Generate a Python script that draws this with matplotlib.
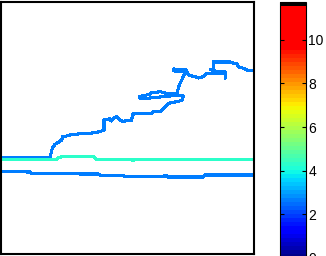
import matplotlib
matplotlib.use("Agg")
import matplotlib.pyplot as plt
import numpy as np
from matplotlib.colors import ListedColormap, Normalize
from matplotlib.cm import ScalarMappable

plt.rcParams['font.family'] = ['Liberation Sans', 'DejaVu Sans']

# winding contour (blue)
track_x = [0, 50, 50.7, 51.7, 53.3, 55, 58.3, 61.7, 62.7, 66.7, 70, 73.3, 90, 100,
           104, 104, 107, 110, 111, 113, 116.5, 120, 123.3, 126.7, 131.7, 132.5, 133.3,
           151.7, 153.3, 160, 165, 168.3, 176.7, 181.7, 183.3, 183, 170, 160, 150, 140,
           139.5, 145, 150, 152, 158, 160, 165, 172, 177, 177.3, 178.3, 180, 181.7, 183.3,
           185, 186.5, 186, 180, 174, 173.5, 176, 186.7, 188.3, 195, 198.3, 203.3, 206.7,
           215, 225, 225.5, 225, 215, 210, 213.3, 213.3, 230, 233, 236.7, 238.3, 243.3,
           246.7, 254.3, 256]
track_y = [96.5, 96.5, 99, 104, 107.3, 109.7, 111.7, 114, 117.3, 118, 119, 119.7, 120.7, 122.3,
           124, 134, 134.5, 135.5, 132.5, 135.5, 137.3, 134, 132.3, 133.5, 134, 139, 140,
           140.7, 142.3, 142.3, 147.3, 150.7, 152.3, 153.5, 157, 158.5, 158, 157, 156, 155.5,
           157.5, 158.5, 160, 161.5, 162, 162.5, 161, 160.5, 160, 162.3, 165.7, 170.7, 174, 177.3,
           180.7, 182.3, 184, 184.5, 185, 183.5, 182.5, 183, 179, 177.3, 176, 177.3, 180.5,
           181, 180.7, 175, 182, 183, 184.5, 185, 192, 192, 191, 190.7, 187.3, 185.7,
           184, 183, 183]

# flat contour (cyan)
flat_x = [0, 56.7, 58, 61.7, 93.3, 95.5, 96.7, 133.3, 151.7, 256]
flat_y = [94.7, 94.7, 96, 97.3, 97.3, 95.5, 94.7, 94, 94.7, 94.7]

# lower contour (blue)
low_x = [0, 30, 31.7, 78.3, 80, 98.3, 100, 123.3, 124, 166.7, 168.3, 203.3, 205, 256]
low_y = [82.3, 82, 80.7, 80.7, 80, 80, 78.7, 78.7, 77.5, 78, 77, 77, 79, 79]

levels = [2.7, 4.4, 2.7]
vmin, vmax = 0, 11.76
cbar_ticks = [0, 2, 4, 6, 8, 10]

# jet-like map, saturating at red, black on top
n = 64
centers = (np.arange(n) + 0.5) * vmax / n
t = np.clip(centers / 10.67, 0, 0.89)
colors = plt.get_cmap('jet')(t)
colors[t >= 0.89] = [1, 0, 0, 1]
colors[-1] = [0, 0, 0, 1]
cmap = ListedColormap(colors)
norm = Normalize(vmin, vmax)

fig = plt.figure(figsize=(3.26, 2.56), dpi=100)
ax = fig.add_axes([1 / 326, 2 / 256, 253.5 / 326, 252.3 / 256])

for (xs, ys), lev in zip([(track_x, track_y), (flat_x, flat_y), (low_x, low_y)], levels):
    ax.plot(xs, ys, color=cmap(norm(lev)), lw=1.5, antialiased=False, solid_joinstyle='miter')

ax.set_xlim(1, 254.5)
ax.set_ylim(0, 252.3)
ax.set_xticks([])
ax.set_yticks([])
for sp in ax.spines.values():
    sp.set_linewidth(1.5)
    sp.set_color('black')

cax = fig.add_axes([279.5 / 326, -1.9 / 256, 26 / 326, 256.4 / 256])
cb = fig.colorbar(ScalarMappable(norm=norm, cmap=cmap), cax=cax, ticks=cbar_ticks)
cb.outline.set_linewidth(0.8)
cax.tick_params(direction='in', left=True, right=True, labelleft=False, labelright=True,
                length=3, width=0.8, labelsize=10, pad=2)

fig.savefig("out.png", dpi=100)
